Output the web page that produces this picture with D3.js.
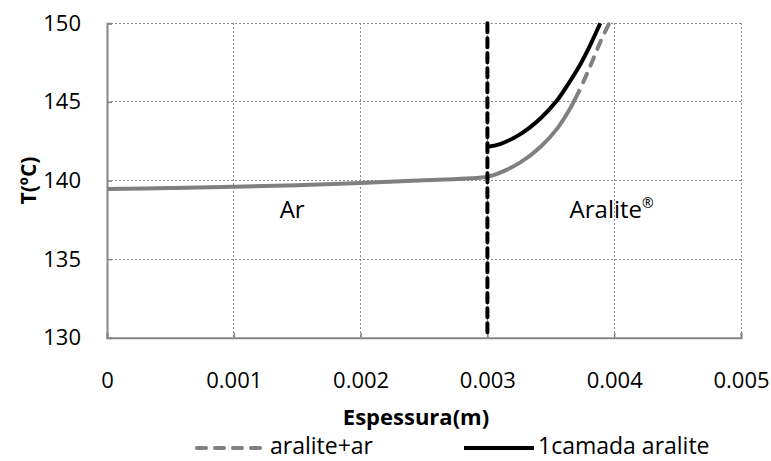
<!DOCTYPE html>
<html><head><meta charset="utf-8">
<script src="https://cdn.jsdelivr.net/npm/d3@7"></script>
<style>
body{margin:0;background:#fff;}
text{font-family:"Open Sans",Lato,sans-serif;fill:#000;}
</style></head><body>
<svg id="c" width="771" height="461"></svg>
<script>
// Data
const xTicks = [0, 0.001, 0.002, 0.003, 0.004, 0.005];
const xTickLabels = ["0", "0.001", "0.002", "0.003", "0.004", "0.005"];
const yTicks = [130, 135, 140, 145, 150];
const yTickLabels = ["130", "135", "140", "145", "150"];

const araliteArX = [0, 0.0005, 0.001, 0.0015, 0.002, 0.0025, 0.003, 0.0031, 0.00326, 0.00342, 0.00355, 0.00365, 0.00373, 0.00381, 0.00389, 0.00396];
const araliteArY = [139.46, 139.52, 139.6, 139.7, 139.84, 140.02, 140.24, 140.5, 141.15, 142.15, 143.3, 144.55, 145.8, 147.25, 148.8, 150.0];
const araliteArSolidUntil = 0.00373;

const camadaX = [0.003, 0.0031, 0.00326, 0.00342, 0.00355, 0.00365, 0.00373, 0.00381, 0.00389];
const camadaY = [142.15, 142.32, 142.95, 143.96, 145.1, 146.3, 147.35, 148.6, 150.0];

const boundaryX = 0.003;
const seriesNames = ["aralite+ar", "1camada aralite"];
const xTitle = "Espessura(m)";
const yTitle = "T(ºC)";
const regionLabels = [{x: 0.00146, text: "Ar"}, {x: 0.00398, text: "Aralite", sup: "®"}];
const regionLabelY = 137.6;

const svg = d3.select("#c");
const L = 107, R = 741, T = 23.3, B = 337.7;
const x = d3.scaleLinear().domain([0, 0.005]).range([L, R]);
const y = d3.scaleLinear().domain([130, 150]).range([B, T]);
const gridC = "#8c8c8c", axisC = "#868686", grayC = "#808080";
const FONT = '"Open Sans", sans-serif';

// gridlines
svg.append("g").selectAll("line").data(yTicks.slice(1)).join("line")
  .attr("x1", L).attr("x2", R).attr("y1", d => y(d)).attr("y2", d => y(d))
  .attr("stroke", gridC).attr("stroke-width", 1).attr("stroke-dasharray", "2,2").attr("shape-rendering","crispEdges");
svg.append("g").selectAll("line").data(xTicks.slice(1)).join("line")
  .attr("x1", d => x(d)).attr("x2", d => x(d)).attr("y1", T).attr("y2", B)
  .attr("stroke", gridC).attr("stroke-width", 1).attr("stroke-dasharray", "2,2").attr("shape-rendering","crispEdges");

// axes
const yAxis = d3.axisLeft(y).tickValues(yTicks).tickFormat((d,i) => yTickLabels[i]).tickSize(-5).tickPadding(26);
const gy = svg.append("g").attr("transform", `translate(${L},0)`).call(yAxis);
const xAxis = d3.axisBottom(x).tickValues(xTicks).tickFormat((d,i) => xTickLabels[i]).tickSize(-5).tickPadding(35);
const gx = svg.append("g").attr("transform", `translate(0,${B})`).call(xAxis);
[gy, gx].forEach(g => {
  g.attr("font-family", null).attr("font-size", null);
  g.select(".domain").attr("stroke", axisC).attr("stroke-width", 2);
  g.selectAll(".tick line").attr("stroke", axisC).attr("stroke-width", 1.5);
  g.selectAll("text").style("font-family", FONT).style("font-size", "22px").attr("fill", "#000");
});

// axis titles
svg.append("text").attr("x", 416).attr("y", 425).attr("text-anchor", "middle")
  .style("font-size", "22px").style("font-weight", "bold").text(xTitle);
svg.append("text").attr("transform", `translate(36,${(T+B)/2}) rotate(-90)`).attr("text-anchor", "middle")
  .style("font-size", "21px").style("font-weight", "bold").text(yTitle);

// region labels
regionLabels.forEach(r => {
  const t = svg.append("text").attr("x", x(r.x)).attr("y", y(regionLabelY)).attr("text-anchor", "middle")
    .style("font-size", "24px");
  t.append("tspan").text(r.text);
  if (r.sup) t.append("tspan").attr("dy", -10).style("font-size", "14px").text(r.sup);
});

// series
const line = d3.line().x(d => x(d[0])).y(d => y(d[1])).curve(d3.curveCatmullRom.alpha(0.5));
const grayPts = araliteArX.map((v, i) => [v, araliteArY[i]]);
svg.append("path").datum(grayPts.filter(d => d[0] <= araliteArSolidUntil))
  .attr("d", line).attr("fill", "none").attr("stroke", grayC).attr("stroke-width", 4).attr("stroke-linejoin","round");
svg.append("path").datum(grayPts.filter(d => d[0] >= araliteArSolidUntil))
  .attr("d", line).attr("fill", "none").attr("stroke", grayC).attr("stroke-width", 4)
  .attr("stroke-dasharray", "9,9").attr("stroke-dashoffset", -8).attr("stroke-linecap", "round");
const blackPts = camadaX.map((v, i) => [v, camadaY[i]]);
svg.append("path").datum(blackPts).attr("d", line).attr("fill", "none").attr("stroke", "#000").attr("stroke-width", 4);

// boundary
svg.append("line").attr("x1", x(boundaryX)).attr("x2", x(boundaryX)).attr("y1", y(150)).attr("y2", y(130))
  .attr("stroke", "#000").attr("stroke-width", 4).attr("stroke-dasharray", "9,6").attr("stroke-linecap", "round");

// legend
const ly = 448;
const lg = svg.append("g");
lg.append("line").attr("x1", 197).attr("x2", 266).attr("y1", ly).attr("y2", ly)
  .attr("stroke", grayC).attr("stroke-width", 4).attr("stroke-dasharray", "9,9").attr("stroke-linecap", "round");
lg.append("text").attr("x", 270).attr("y", ly + 6).style("font-size", "23px").text(seriesNames[0]);
lg.append("line").attr("x1", 464).attr("x2", 534).attr("y1", ly).attr("y2", ly)
  .attr("stroke", "#000").attr("stroke-width", 4);
lg.append("text").attr("x", 538).attr("y", ly + 6).style("font-size", "23px").text(seriesNames[1]);
</script>
</body></html>
